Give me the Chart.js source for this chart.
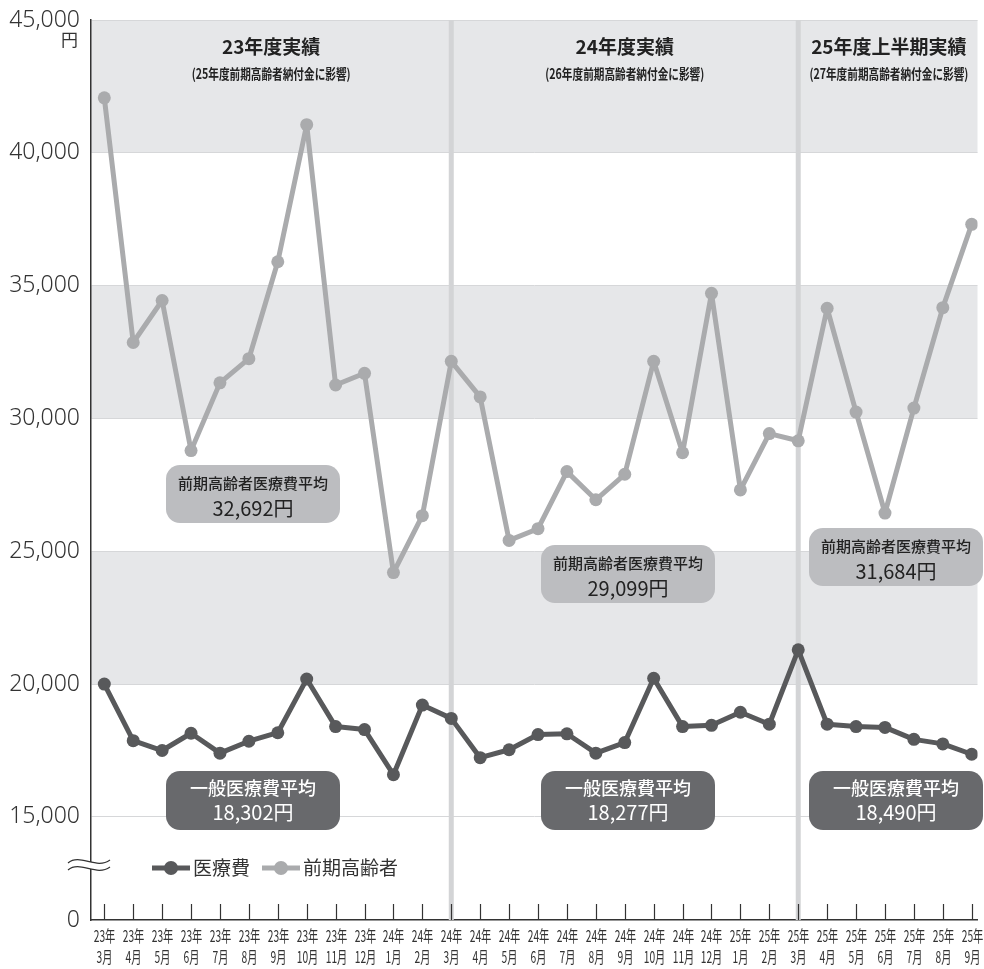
<!DOCTYPE html>
<html lang="ja">
<head>
<meta charset="UTF-8">
<title>医療費の推移</title>
<script src="https://cdn.jsdelivr.net/npm/chart.js"></script>
<style>
  html, body { margin: 0; padding: 0; background: #fff; overflow: hidden; }
</style>
</head>
<body>
<canvas id="chart" width="984" height="969"></canvas>
<script>
  // categories (診療月)
  const years = ['23年','23年','23年','23年','23年','23年','23年','23年','23年','23年',
                 '24年','24年','24年','24年','24年','24年','24年','24年','24年','24年','24年','24年',
                 '25年','25年','25年','25年','25年','25年','25年','25年','25年'];
  const months = ['3月','4月','5月','6月','7月','8月','9月','10月','11月','12月',
                  '1月','2月','3月','4月','5月','6月','7月','8月','9月','10月','11月','12月',
                  '1月','2月','3月','4月','5月','6月','7月','8月','9月'];

  // series values (円)
  const kouki = [42070, 32860, 34440, 28790, 31340, 32250, 35900, 41060, 31260, 31700,
                 24200, 26340, 32150, 30810, 25410, 25850, 28000, 26940, 27900, 32150,
                 28710, 34710, 27310, 29430, 29160, 34150, 30240, 26440, 30390, 34170, 37310];
  const ippan = [20000, 17870, 17500, 18150, 17400, 17850, 18170, 20190, 18400, 18290,
                 16590, 19210, 18710, 17230, 17530, 18100, 18130, 17400, 17800, 20220,
                 18400, 18450, 18940, 18490, 21290, 18490, 18400, 18370, 17920, 17750, 17360];

  // axis
  const yTicks = [15000, 20000, 25000, 30000, 35000, 40000, 45000];
  const yBreak = 11120; // shown as "0" below the axis break

  // periods
  const periodTitles = ['23年度実績', '24年度実績', '25年度上半期実績'];
  const periodNotes = ['(25年度前期高齢者納付金に影響)', '(26年度前期高齢者納付金に影響)', '(27年度前期高齢者納付金に影響)'];
  const periodStarts = [0, 12, 24];
  const koukiAvg = ['32,692円', '29,099円', '31,684円'];
  const ippanAvg = ['18,302円', '18,277円', '18,490円'];

  const seriesNames = ['医療費', '前期高齢者'];
  const DARK = '#58595b';
  const LIGHT = '#aaabad';
  const JP = '"Noto Sans CJK JP", "Noto Sans", sans-serif';

  function condensedText(ctx, text, x, y, sx) {
    ctx.save();
    ctx.translate(x, y);
    ctx.scale(sx, 1);
    ctx.fillText(text, 0, 0);
    ctx.restore();
  }

  function roundBox(ctx, x, y, w, h, r, color) {
    ctx.beginPath();
    ctx.roundRect(x, y, w, h, r);
    ctx.fillStyle = color;
    ctx.fill();
  }

  const deco = {
    id: 'deco',
    beforeDraw(chart) {
      const { ctx, chartArea: a, scales: { y } } = chart;
      ctx.save();
      ctx.fillStyle = '#e6e7e9';
      for (let i = yTicks.length - 1; i > 0; i -= 2) {
        const top = y.getPixelForValue(yTicks[i]);
        const bot = y.getPixelForValue(yTicks[i - 1]);
        ctx.fillRect(a.left, top, a.right - a.left, bot - top);
      }
      ctx.restore();
    },
    beforeDatasetsDraw(chart) {
      const { ctx, chartArea: a, scales: { x } } = chart;
      ctx.save();
      ctx.fillStyle = '#d3d4d6';
      periodStarts.slice(1).forEach(i => {
        const px = x.getPixelForValue(i);
        ctx.fillRect(px - 2.5, a.top, 5, a.bottom - a.top);
      });
      ctx.restore();
    },
    afterDraw(chart) {
      const { ctx, chartArea: a, scales: { x } } = chart;
      ctx.save();

      // x tick marks and labels
      ctx.strokeStyle = '#333';
      ctx.lineWidth = 1.2;
      ctx.fillStyle = '#333';
      ctx.textAlign = 'center';
      ctx.textBaseline = 'middle';
      ctx.font = '16px ' + JP;
      years.forEach((yr, i) => {
        const px = Math.round(x.getPixelForValue(i)) + 0.5;
        ctx.beginPath();
        ctx.moveTo(px, a.bottom);
        ctx.lineTo(px, a.bottom - 16);
        ctx.stroke();
        condensedText(ctx, yr, px, a.bottom + 16, 0.64);
        condensedText(ctx, months[i], px, a.bottom + 37, 0.64);
      });

      // 円 unit
      ctx.textAlign = 'right';
      ctx.font = '17px ' + JP;
      ctx.fillText('円', 78, 40);

      // axis break
      ctx.fillStyle = '#fff';
      ctx.fillRect(a.left - 2, 862, 4, 7);
      ctx.strokeStyle = '#333';
      ctx.lineWidth = 1.2;
      [0, 7].forEach(dy => {
        ctx.beginPath();
        ctx.moveTo(68, 863 + dy);
        ctx.bezierCurveTo(80, 853 + dy, 96, 870 + dy, 110, 860 + dy);
        ctx.stroke();
      });

      // legend
      const legendItems = [[152, DARK], [262, LIGHT]];
      ctx.textAlign = 'left';
      ctx.font = '19px ' + JP;
      legendItems.forEach(([lx, col], k) => {
        ctx.strokeStyle = col;
        ctx.lineWidth = 5;
        ctx.beginPath();
        ctx.moveTo(lx, 868);
        ctx.lineTo(lx + 38, 868);
        ctx.stroke();
        ctx.fillStyle = col;
        ctx.beginPath();
        ctx.arc(lx + 19, 868, 7, 0, Math.PI * 2);
        ctx.fill();
        ctx.fillStyle = '#333';
        ctx.fillText(seriesNames[k], lx + 41, 868);
      });

      // period headings
      ctx.fillStyle = '#222';
      ctx.textAlign = 'center';
      const bounds = periodStarts.map(i => x.getPixelForValue(i));
      bounds[0] = a.left;
      bounds.push(a.right + 2);
      periodTitles.forEach((t, k) => {
        const cx = (bounds[k] + bounds[k + 1]) / 2;
        ctx.font = 'bold 19px ' + JP;
        ctx.fillText(t, cx, 47);
        ctx.font = 'bold 14px ' + JP;
        condensedText(ctx, periodNotes[k], cx, 74, 0.76);
      });

      // average boxes
      const boxX = [166, 541, 809];
      const koukiY = [465, 545, 528];
      boxX.forEach((bx, k) => {
        roundBox(ctx, bx, koukiY[k], 174, 58, 14, '#bcbdc0');
        ctx.fillStyle = '#222';
        ctx.font = '500 15px ' + JP;
        ctx.fillText('前期高齢者医療費平均', bx + 87, koukiY[k] + 18);
        ctx.font = '20px ' + JP;
        ctx.fillText(koukiAvg[k], bx + 87, koukiY[k] + 43);

        roundBox(ctx, bx, 771, 174, 59, 14, '#68696c');
        ctx.fillStyle = '#fff';
        ctx.font = '500 18px ' + JP;
        ctx.fillText('一般医療費平均', bx + 87, 788);
        ctx.font = '20px ' + JP;
        ctx.fillText(ippanAvg[k], bx + 87, 812);
      });

      ctx.restore();
    }
  };

  const toPoints = arr => arr.map((v, i) => ({ x: i, y: v }));

  new Chart(document.getElementById('chart'), {
    type: 'line',
    data: {
      datasets: [
        {
          label: seriesNames[1],
          data: toPoints(kouki),
          borderColor: LIGHT,
          backgroundColor: LIGHT,
          borderWidth: 5,
          borderJoinStyle: 'round',
          pointRadius: 6.5,
          pointBorderWidth: 0,
          pointBackgroundColor: LIGHT,
          tension: 0
        },
        {
          label: seriesNames[0],
          data: toPoints(ippan),
          borderColor: DARK,
          backgroundColor: DARK,
          borderWidth: 5,
          borderJoinStyle: 'round',
          pointRadius: 6.5,
          pointBorderWidth: 0,
          pointBackgroundColor: DARK,
          tension: 0
        }
      ]
    },
    options: {
      responsive: false,
      animation: false,
      devicePixelRatio: 1,
      layout: { padding: { top: 20, right: 0, left: 0, bottom: 0 } },
      plugins: {
        legend: { display: false },
        tooltip: { enabled: false }
      },
      scales: {
        x: {
          type: 'linear',
          min: -0.46,
          max: 30.2,
          grid: { display: false },
          border: { display: true, color: '#333', width: 1.5 },
          ticks: { display: false },
          afterFit: s => { s.height = 49; s.paddingLeft = 0; s.paddingRight = 0; }
        },
        y: {
          min: yBreak,
          max: 45000,
          afterBuildTicks: s => { s.ticks = [yBreak, ...yTicks].map(v => ({ value: v })); },
          afterFit: s => { s.width = 91; s.paddingTop = 0; s.paddingBottom = 0; },
          grid: {
            drawTicks: false,
            lineWidth: 1,
            color: c => (c.tick && c.tick.value === yBreak) ? 'rgba(0,0,0,0)' : '#d6d7d9'
          },
          border: { display: true, color: '#333', width: 1.5 },
          ticks: {
            padding: 11,
            color: '#333',
            font: { family: '"Noto Sans", sans-serif', size: 23, weight: '300' },
            callback: v => v === yBreak ? '0' : v.toLocaleString('en-US')
          }
        }
      }
    },
    plugins: [deco]
  });
</script>
</body>
</html>
